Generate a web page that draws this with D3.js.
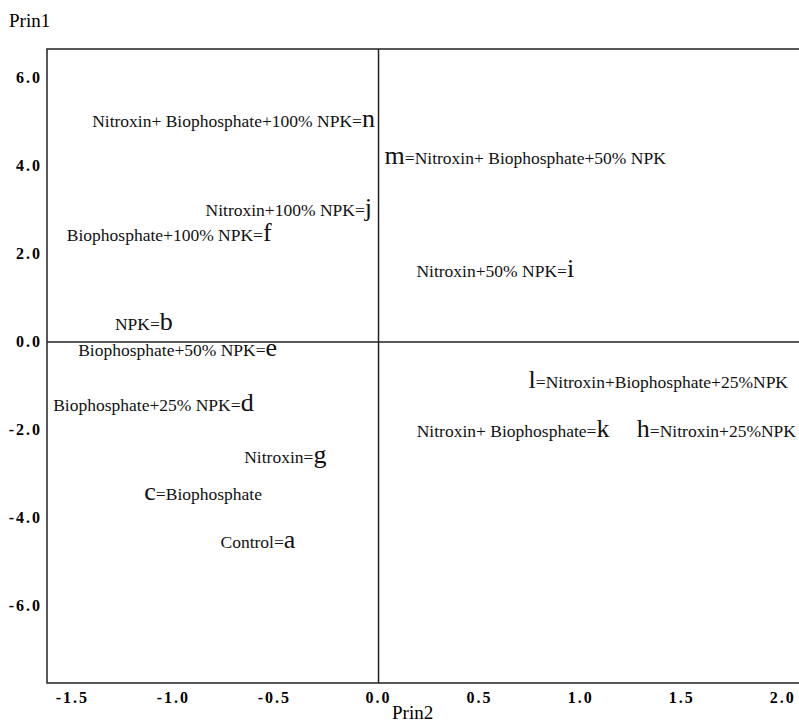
<!DOCTYPE html>
<html>
<head>
<meta charset="utf-8">
<script src="https://cdn.jsdelivr.net/npm/d3@7"></script>
<style>
  body { margin: 0; background: #fff; }
  svg { display: block; font-family: "Liberation Serif", "DejaVu Serif", serif; }
</style>
</head>
<body>
<div id="chart"></div>
<script>
// treatment codes and their principal component scores
const codes = ["n", "m", "j", "f", "i", "b", "e", "d", "g", "c", "a", "l", "k", "h"];
const prin2 = [-0.05, 0.08, -0.05, -0.55, 0.95, -1.05, -0.53, -0.65, -0.29, -1.13, -0.44, 0.76, 1.11, 1.31];
const prin1 = [4.88, 4.04, 2.86, 2.3, 1.48, 0.27, -0.32, -1.57, -2.75, -3.6, -4.68, -1.05, -2.16, -2.16];
const treatments = [
  "Nitroxin+ Biophosphate+100% NPK",
  "Nitroxin+ Biophosphate+50% NPK",
  "Nitroxin+100% NPK",
  "Biophosphate+100% NPK",
  "Nitroxin+50% NPK",
  "NPK",
  "Biophosphate+50% NPK",
  "Biophosphate+25% NPK",
  "Nitroxin",
  "Biophosphate",
  "Control",
  "Nitroxin+Biophosphate+25%NPK",
  "Nitroxin+ Biophosphate",
  "Nitroxin+25%NPK"
];
// true when the code letter is written before the treatment name
const codeFirst = [false, true, false, false, false, false, false, false, false, true, false, true, false, true];

const xTicks = [-1.5, -1.0, -0.5, 0.0, 0.5, 1.0, 1.5, 2.0];
const yTicks = [6.0, 4.0, 2.0, 0.0, -2.0, -4.0, -6.0];

const W = 799, H = 723;
const plot = { left: 47, top: 49, right: 799, bottom: 683 };

const svg = d3.select("#chart").append("svg")
  .attr("width", W)
  .attr("height", H);

const x = d3.scaleLinear().domain([-1.64, 2.08]).range([plot.left, plot.right]);
const y = d3.scaleLinear().domain([-7.75, 6.66]).range([plot.bottom, plot.top]);

const fmt = d => d3.format(".1f")(d).replace("−", "-");

// frame: left, top, bottom (no right edge visible)
const frame = svg.append("g").attr("stroke", "#222").attr("stroke-width", 1.5).attr("fill", "none");
frame.append("path")
  .attr("d", `M${plot.right},${plot.top}H${plot.left}V${plot.bottom}H${plot.right}`);

// reference lines through zero
frame.append("line")
  .attr("x1", plot.left).attr("x2", plot.right)
  .attr("y1", y(0)).attr("y2", y(0));
frame.append("line")
  .attr("x1", x(0)).attr("x2", x(0))
  .attr("y1", plot.top).attr("y2", plot.bottom);

// tick labels
svg.append("g").selectAll("text")
  .data(yTicks)
  .join("text")
  .attr("x", 42)
  .attr("y", d => y(d) + 5)
  .attr("text-anchor", "end")
  .attr("font-size", 16)
  .attr("font-weight", "bold")
  .attr("letter-spacing", 2)
  .text(fmt);

svg.append("g").selectAll("text")
  .data(xTicks)
  .join("text")
  .attr("x", d => x(d) - (d < 0 ? 3 : 0))
  .attr("y", 703)
  .attr("text-anchor", "middle")
  .attr("font-size", 16)
  .attr("font-weight", "bold")
  .attr("letter-spacing", 2)
  .text(fmt);

// axis titles
svg.append("text")
  .attr("x", 9).attr("y", 27)
  .attr("font-size", 19)
  .text("Prin1");

svg.append("text")
  .attr("x", 392).attr("y", 719)
  .attr("font-size", 19)
  .text("Prin2");

// point labels: big code letter at the score, treatment name beside it
const labels = svg.append("g").attr("fill", "#111");

codes.forEach((code, i) => {
  const px = x(prin2[i]);
  const py = y(prin1[i]);

  const letter = labels.append("text")
    .attr("x", px)
    .attr("y", py)
    .attr("text-anchor", "middle")
    .attr("font-size", 26)
    .text(code);
  const half = letter.node().getComputedTextLength() / 2;

  if (codeFirst[i]) {
    labels.append("text")
      .attr("x", px + half)
      .attr("y", py)
      .attr("font-size", 17.5)
      .text("=" + treatments[i]);
  } else {
    labels.append("text")
      .attr("x", px - half)
      .attr("y", py)
      .attr("text-anchor", "end")
      .attr("font-size", 17.5)
      .text(treatments[i] + "=");
  }
});
</script>
</body>
</html>
